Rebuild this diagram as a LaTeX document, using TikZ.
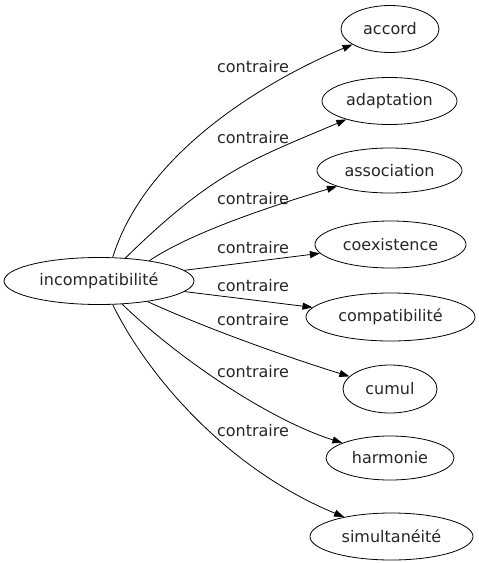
\documentclass[tikz,border=0pt]{standalone}
\usepackage{fontspec}
\setmainfont{DejaVu Sans}
\usetikzlibrary{shapes.geometric,arrows.meta}
\begin{document}
\begin{tikzpicture}[x=1pt,y=-1pt,
  every node/.style={font=\fontsize{16}{19}\selectfont, text=black!85},
  term/.style={draw, ellipse, inner sep=0pt, minimum height=47pt, line width=0.8pt},
  rel/.style={inner sep=0pt},
  link/.style={line width=0.8pt, -{Triangle[length=10pt,width=7pt]}}]
\useasboundingbox (0,0) rectangle (479,563);
\node[term, minimum width=190pt] (c) at (99,281) {incompatibilité};
\node[term, minimum width=98pt] (accord) at (390,29) {accord};
\node[term, minimum width=135pt] (adaptation) at (389.5,101) {adaptation};
\node[term, minimum width=145pt, minimum height=45pt] (association) at (389.5,170.5) {association};
\node[term, minimum width=151pt] (coexistence) at (390.5,244.5) {coexistence};
\node[term, minimum width=169pt, minimum height=48pt] (compatibilite) at (390.5,317) {compatibilité};
\node[term, minimum width=94pt, minimum height=48pt] (cumul) at (390,389) {cumul};
\node[term, minimum width=128pt, minimum height=44pt] (harmonie) at (390,458) {harmonie};
\node[term, minimum width=163pt] (simultaneite) at (391.5,536.5) {simultanéité};

\node[rel] (l1) at (253,67) {contraire};
\node[rel] (l2) at (253,138) {contraire};
\node[rel] (l3) at (253,199) {contraire};
\node[rel] (l4) at (253,248) {contraire};
\node[rel] (l5) at (253,286) {contraire};
\node[rel] (l6) at (253,320) {contraire};
\node[rel] (l7) at (253,372) {contraire};
\node[rel] (l8) at (253,431) {contraire};

\draw[link] (c.60) .. controls (150,138) and (296,68) .. (accord);
\draw[link] (c.41.5) .. controls (215,170) and (256,158) .. (adaptation);
\draw[link] (c.22) .. controls (195,230) and (285,202) .. (association);
\draw[link] (c) -- (coexistence);
\draw[link] (c) -- (compatibilite);
\draw[link] (c.-23.6) .. controls (210,330) and (290,358) .. (cumul);
\draw[link] (c.-45) .. controls (180,360) and (270,420) .. (harmonie);
\draw[link] (c.-60) .. controls (150,380) and (230,470) .. (simultaneite);
\end{tikzpicture}
\end{document}
